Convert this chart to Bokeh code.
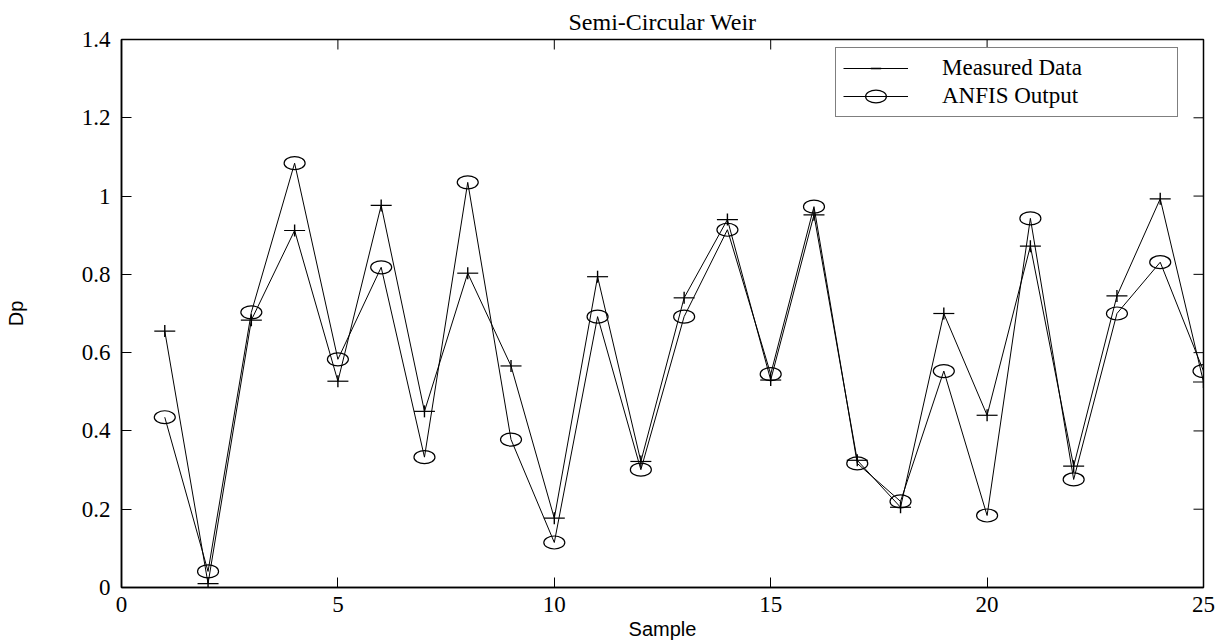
import numpy as np
from bokeh.plotting import figure
from bokeh.models import Range1d, FixedTicker, Legend, LegendItem
from bokeh.embed import file_html
from bokeh.resources import INLINE

samples = list(range(1, 26))
measured = [0.655, 0.01, 0.683, 0.912, 0.527, 0.976, 0.45, 0.803, 0.566, 0.177,
            0.794, 0.322, 0.74, 0.94, 0.53, 0.952, 0.325, 0.205, 0.70, 0.44,
            0.872, 0.31, 0.745, 0.993, 0.525]
anfis = [0.435, 0.041, 0.703, 1.084, 0.583, 0.818, 0.333, 1.035, 0.378, 0.115,
         0.692, 0.301, 0.692, 0.914, 0.545, 0.973, 0.317, 0.22, 0.553, 0.184,
         0.943, 0.276, 0.70, 0.831, 0.553]
x_ticks = [0, 5, 10, 15, 20, 25]
y_ticks = [0, 0.2, 0.4, 0.6, 0.8, 1.0, 1.2, 1.4]

SERIF = "Liberation Serif"
SANS = "Liberation Sans"

p = figure(width=1222, height=642, output_backend="svg", toolbar_location=None,
           x_range=Range1d(x_ticks[0], x_ticks[-1]), y_range=Range1d(y_ticks[0], y_ticks[-1]),
           min_border_left=121, min_border_right=19, min_border_top=39,
           min_border_bottom=55, title="Semi-Circular Weir")
p.title.align = "center"
p.title.text_font = SERIF
p.title.text_font_style = "normal"
p.title.text_font_size = "24px"
p.title.text_color = "black"
p.title.offset = 0
p.title.standoff = 10

p.grid.visible = False
p.outline_line_color = "black"
p.outline_line_width = 1.5
p.background_fill_color = "white"
p.border_fill_color = "white"

for ax in (p.xaxis[0], p.yaxis[0]):
    ax.axis_line_color = "black"
    ax.axis_line_width = 1.5
    ax.major_tick_in = 10
    ax.major_tick_out = 0
    ax.minor_tick_line_color = None
    ax.major_tick_line_color = "black"
    ax.major_tick_line_width = 1
    ax.major_label_text_font = SERIF
    ax.major_label_text_font_size = "23px"
    ax.major_label_text_color = "black"

p.xaxis.ticker = FixedTicker(ticks=x_ticks)
p.yaxis.ticker = FixedTicker(ticks=y_ticks)
p.yaxis.major_label_overrides = {1.0: "1", 0: "0"}
p.xaxis.major_label_standoff = 9
p.yaxis.major_label_standoff = 11
p.xaxis.axis_label = "Sample"
p.xaxis.axis_label_text_font = SANS
p.xaxis.axis_label_text_font_style = "normal"
p.xaxis.axis_label_text_font_size = "20px"
p.xaxis.axis_label_text_color = "black"
p.xaxis.axis_label_standoff = 3
p.yaxis.axis_label = "Dp"
p.yaxis.axis_label_text_font = SANS
p.yaxis.axis_label_text_font_style = "normal"
p.yaxis.axis_label_text_font_size = "20px"
p.yaxis.axis_label_text_color = "black"
p.yaxis.axis_label_standoff = 52

# inward ticks on the top and right edges (outer half clipped by the frame)
p.scatter(x_ticks, [y_ticks[-1]] * len(x_ticks), marker="dash", size=20,
          angle=np.pi / 2, line_color="black", line_width=1)
p.scatter([x_ticks[-1]] * len(y_ticks), y_ticks, marker="dash", size=20,
          line_color="black", line_width=1)

lm = p.line(samples, measured, line_color="black", line_width=1)
hd = p.scatter(samples, measured, marker="dash", size=21, line_color="black", line_width=1.2)
vd = p.scatter(samples, measured, marker="dash", size=12, angle=np.pi / 2,
               line_color="black", line_width=1.4)
la = p.line(samples, anfis, line_color="black", line_width=1)
el = p.ellipse(samples, anfis, width=21, height=13, width_units="screen",
               height_units="screen", fill_color=None, line_color="black", line_width=1.2)

legend = Legend(items=[LegendItem(label="Measured Data", renderers=[lm, hd, vd]),
                       LegendItem(label="ANFIS Output", renderers=[la, el])],
                location=(714, 470))
legend.border_line_color = "black"
legend.border_line_width = 1.5
legend.background_fill_color = "white"
legend.background_fill_alpha = 1
legend.label_text_font = SERIF
legend.label_text_font_size = "23px"
legend.label_text_color = "black"
legend.glyph_width = 65
legend.glyph_height = 26
legend.label_height = 26
legend.label_standoff = 34
legend.label_width = 228
legend.padding = 7
legend.margin = 0
legend.spacing = 2
p.add_layout(legend, "center")

open("out.html", "w").write(file_html(p, INLINE))
